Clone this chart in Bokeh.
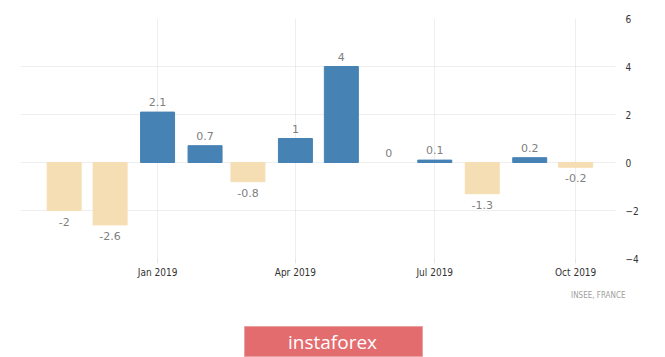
import datetime as dt
from bokeh.plotting import figure
from bokeh.layouts import column
from bokeh.core.properties import value
from bokeh.models import (ColumnDataSource, Range1d, FixedTicker, LinearAxis,
                          DatetimeTickFormatter, LabelSet, Title)
from bokeh.embed import file_html
from bokeh.resources import INLINE

# ---- data ----
months = ["2018-11", "2018-12", "2019-01", "2019-02", "2019-03", "2019-04",
          "2019-05", "2019-06", "2019-07", "2019-08", "2019-09", "2019-10"]
values = [-2, -2.6, 2.1, 0.7, -0.8, 1, 4, 0, 0.1, -1.3, 0.2, -0.2]
value_labels = ["-2", "-2.6", "2.1", "0.7", "-0.8", "1", "4", "0", "0.1", "-1.3", "0.2", "-0.2"]
x_ticks = ["2019-01", "2019-04", "2019-07", "2019-10"]
y_ticks = [-4, -2, 0, 2, 4, 6]
source_text = "INSEE, FRANCE"
brand = "instaforex"

BLUE = "#4682b4"
TAN = "#f5deb3"
NONE = "rgba(0,0,0,0)"

def to_dt(s):
    y, m = s.split("-")
    return dt.datetime(int(y), int(m), 1)

def to_ms(d):
    return (d - dt.datetime(1970, 1, 1)).total_seconds() * 1000.0

dates = [to_dt(m) for m in months]
DAY = 86400000.0
bar_w = 22.2 * DAY

src = ColumnDataSource(dict(
    x=dates,
    top=[max(v, 0) for v in values],
    bottom=[min(v, 0) for v in values],
    color=[BLUE if v > 0 else (TAN if v < 0 else NONE) for v in values],
))
pos_src = ColumnDataSource(dict(
    x=[d for d, v in zip(dates, values) if v >= 0],
    y=[v for v in values if v >= 0],
    t=[l for l, v in zip(value_labels, values) if v >= 0],
))
neg_src = ColumnDataSource(dict(
    x=[d for d, v in zip(dates, values) if v < 0],
    y=[v for v in values if v < 0],
    t=[l for l, v in zip(value_labels, values) if v < 0],
))

x_start = dt.datetime(2018, 10, 3, 12)
x_end = dt.datetime(2019, 10, 27)

MAIN_H = 320
p = figure(width=665, height=MAIN_H, output_backend="svg", toolbar_location=None,
           x_axis_type="datetime",
           x_range=Range1d(x_start, x_end), y_range=Range1d(-4, 6),
           min_border_left=20, min_border_right=50, min_border_top=18,
           min_border_bottom=MAIN_H - 258, y_axis_location=None)
p.outline_line_color = None

p.vbar(x="x", top="top", bottom="bottom", width=bar_w, color="color",
       line_color="color", source=src)

lbl_font = value("DejaVu Sans")
p.add_layout(LabelSet(x="x", y="y", text="t", source=pos_src, text_align="center",
                      text_baseline="bottom", y_offset=6, text_color="#7f7f7f",
                      text_font_size="11px", text_font=lbl_font))
p.add_layout(LabelSet(x="x", y="y", text="t", source=neg_src, text_align="center",
                      text_baseline="top", y_offset=-7, text_color="#7f7f7f",
                      text_font_size="11px", text_font=lbl_font))

# x axis
xa = p.xaxis[0]
xa.ticker = FixedTicker(ticks=[to_ms(to_dt(t)) for t in x_ticks])
fmt = "%b %Y"
xa.formatter = DatetimeTickFormatter(months=fmt, days=fmt, years=fmt, hours=fmt,
                                     minutes=fmt, seconds=fmt, milliseconds=fmt,
                                     minsec=fmt, hourmin=fmt)
xa.axis_line_color = None
xa.major_tick_line_color = "#e6e6e6"
xa.major_tick_out = 5
xa.major_tick_in = 0
xa.minor_tick_line_color = None
xa.major_label_text_color = "#333333"
xa.major_label_text_font = "DejaVu Sans Condensed"
xa.major_label_text_font_size = "10px"
xa.major_label_standoff = 3

# y axis on the right
ya = LinearAxis(ticker=FixedTicker(ticks=y_ticks))
ya.axis_line_color = None
ya.major_tick_line_color = None
ya.minor_tick_line_color = None
ya.major_label_text_color = "#333333"
ya.major_label_text_font = "DejaVu Sans Condensed"
ya.major_label_text_font_size = "10px"
ya.major_label_standoff = 4
p.add_layout(ya, "right")

p.xgrid.ticker = xa.ticker
p.xgrid.grid_line_color = "#dddddd"
p.xgrid.grid_line_dash = "1 1"
p.ygrid.ticker = ya.ticker
p.ygrid.grid_line_color = "#dddddd"
p.ygrid.grid_line_dash = "1 1"

# source note under the x axis
p.add_layout(Title(text=source_text, align="right", offset=-10, standoff=17,
                   text_color="#a0a0a0", text_font_size="8px",
                   text_font="DejaVu Sans Condensed", text_font_style="normal"),
             "below")

# ---- footer: logo (canvas pixel coordinates; frame aligned to 20..615) ----
f = figure(width=665, height=357 - MAIN_H, output_backend="svg", toolbar_location=None,
           x_range=Range1d(20, 615), y_range=Range1d(357, MAIN_H),
           min_border_left=20, min_border_right=50, min_border_top=0,
           min_border_bottom=0, x_axis_location=None, y_axis_location=None)
f.outline_line_color = None
f.grid.visible = False
f.quad(left=[244], right=[422], top=[326], bottom=[356], fill_color="#e36c6f",
       line_color="#e8a0a2")
f.text(x=[332], y=[341], text=[brand], text_align="center",
       text_baseline="middle", text_color="white", text_font_size="19px",
       text_font=value("Open Sans"))

layout = column(p, f, spacing=0)
open("out.html", "w").write(file_html(layout, INLINE))
